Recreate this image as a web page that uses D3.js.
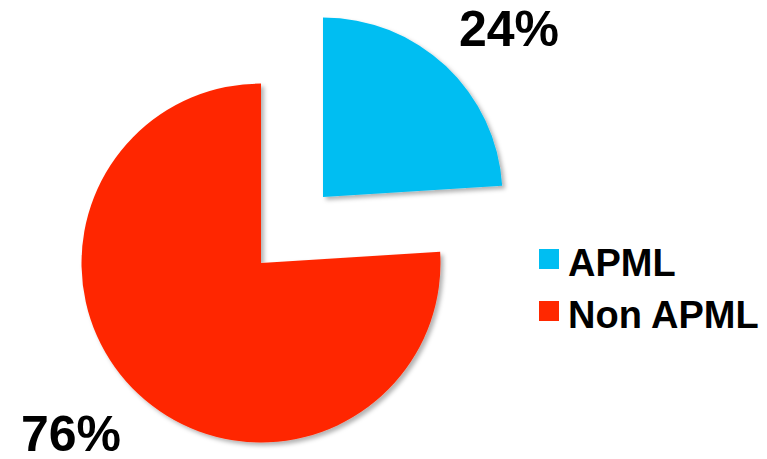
<!DOCTYPE html>
<html>
<head>
<meta charset="utf-8">
<script src="https://cdn.jsdelivr.net/npm/d3@7"></script>
<style>
  html, body { margin: 0; padding: 0; background: #fff; }
  svg { display: block; }
  text { font-family: "Liberation Sans", Arial, sans-serif; font-weight: bold; fill: #000; }
</style>
</head>
<body>
<svg id="chart" width="767" height="459"></svg>
<script>
// Share of cases
const categories = ["APML", "Non APML"];
const values = [24, 76];
const pctLabels = ["24%", "76%"];
const colors = ["#00BEF2", "#FF2800"];

const svg = d3.select("#chart");
const cx = 261, cy = 263, radius = 179.5;
const explode = 90.6; // pull-out distance of the APML wedge

const defs = svg.append("defs");
const f = defs.append("filter").attr("id", "shadow")
  .attr("x", "-10%").attr("y", "-10%").attr("width", "130%").attr("height", "130%");
f.append("feDropShadow").attr("dx", 3).attr("dy", 3)
  .attr("stdDeviation", 2.2).attr("flood-color", "#000").attr("flood-opacity", 0.3);

const color = d3.scaleOrdinal().domain(categories).range(colors);

const pie = d3.pie().sort(null).value(d => d.value);
const arcs = pie(categories.map((c, i) => ({ name: c, value: values[i] })));
const arc = d3.arc().innerRadius(0).outerRadius(radius);

const g = svg.append("g").attr("transform", `translate(${cx},${cy})`);
g.selectAll("path")
  .data(arcs)
  .join("path")
  .attr("d", arc)
  .attr("fill", d => color(d.data.name))
  .attr("filter", "url(#shadow)")
  .attr("transform", (d, i) => {
    if (i !== 0) return null;
    const a = (d.startAngle + d.endAngle) / 2;
    return `translate(${explode * Math.sin(a)},${-explode * Math.cos(a)})`;
  });

// Percentage labels
const labelPos = [[459, 46], [21, 451]];
svg.selectAll("text.pct")
  .data(pctLabels)
  .join("text")
  .attr("class", "pct")
  .attr("x", (d, i) => labelPos[i][0])
  .attr("y", (d, i) => labelPos[i][1])
  .style("font-size", "50px")
  .text(d => d);

// Legend
const legend = svg.append("g").attr("transform", "translate(539,249)");
const item = legend.selectAll("g")
  .data(categories)
  .join("g")
  .attr("transform", (d, i) => `translate(0,${i * 52})`);
item.append("rect").attr("width", 20).attr("height", 20).attr("fill", d => color(d));
item.append("text").attr("x", 29).attr("y", 27)
  .style("font-size", "38px")
  .text(d => d);
</script>
</body>
</html>
